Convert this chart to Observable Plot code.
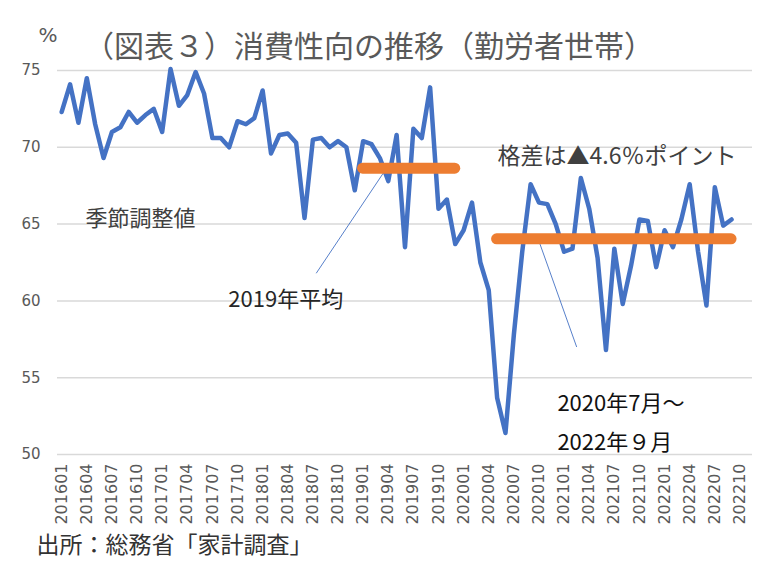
<!DOCTYPE html>
<html><head><meta charset="utf-8">
<script src="https://cdn.jsdelivr.net/npm/d3@7"></script>
<script src="https://cdn.jsdelivr.net/npm/@observablehq/plot@0.6"></script>
<style>body{margin:0;background:#fff}</style>
</head><body><div id="chart"></div>
<script>
// Categories (monthly, Excel-style category axis incl. trailing empty months)
const months = [
"201601","201602","201603","201604","201605","201606","201607","201608","201609","201610","201611","201612",
"201701","201702","201703","201704","201705","201706","201707","201708","201709","201710","201711","201712",
"201801","201802","201803","201804","201805","201806","201807","201808","201809","201810","201811","201812",
"201901","201902","201903","201904","201905","201906","201907","201908","201909","201910","201911","201912",
"202001","202002","202003","202004","202005","202006","202007","202008","202009","202010","202011","202012",
"202101","202102","202103","202104","202105","202106","202107","202108","202109","202110","202111","202112",
"202201","202202","202203","202204","202205","202206","202207","202208","202209","202210","202211"];
const tickLabels = ["201601","201604","201607","201610","201701","201704","201707","201710","201801","201804",
"201807","201810","201901","201904","201907","201910","202001","202004","202007","202010","202101","202104",
"202107","202110","202201","202204","202207","202210"];
// 平均消費性向（勤労者世帯・季節調整値, %） 201601..202209
const propensity = [
72.3,74.1,71.6,74.5,71.5,69.3,71.0,71.3,72.3,71.6,72.1,72.5,
71.0,75.1,72.7,73.4,74.9,73.5,70.6,70.6,70.0,71.7,71.5,71.9,
73.7,69.6,70.8,70.9,70.3,65.4,70.5,70.6,70.0,70.4,70.0,67.2,
70.4,70.2,69.3,67.8,70.8,63.5,71.2,70.6,73.9,66.0,66.6,63.7,
64.6,66.4,62.5,60.7,53.7,51.4,57.8,63.2,67.6,66.4,66.3,65.0,
63.2,63.4,68.0,66.0,62.8,56.8,63.4,59.8,62.3,65.3,65.2,62.2,
64.6,63.5,65.3,67.6,63.2,59.7,67.4,64.9,65.3];
const avgFrom = ["201901","202005"];
const avgTo = ["201912","202209"];
const avgValues = [68.64, 64.04];
const yTicks = [50,55,60,65,70,75];

const rows = propensity.map((v,i)=>({idx:i, month:months[i], value:v}));
const avgRows = avgValues.map((v,i)=>({x1:months.indexOf(avgFrom[i]), x2:months.indexOf(avgTo[i]), value:v}));
const tickIdx = tickLabels.map(l=>months.indexOf(l));

const blue = "#4472C4", orange = "#ED7D31";
const jp = "'Noto Sans CJK JP', sans-serif";

const chart = Plot.plot({
  width:781, height:576,
  marginTop:70, marginRight:29, marginBottom:122, marginLeft:57,
  style:{fontFamily:jp, background:"#fff", overflow:"visible"},
  x:{type:"linear", domain:[-0.5, 82.5]},
  y:{domain:[50,75]},
  marks:[
    Plot.ruleY(yTicks, {stroke:"#d9d9d9", strokeWidth:1.5}),
    Plot.axisY(yTicks, {tickSize:0, tickPadding:17, fontSize:15, fontFamily:"DejaVu Sans", color:"#595959", label:null}),
    Plot.axisX(tickIdx, {tickSize:0, tickPadding:9, tickRotate:-90, tickFormat:i=>months[i], fontSize:16, fontFamily:"DejaVu Sans", color:"#595959", label:null}),
    // leader lines
    Plot.link([{x1:30.4,y1:61.8,x2:38.8,y2:68.64},{x1:56.9,y1:64.04,x2:61.5,y2:57.0}],
      {x1:"x1",y1:"y1",x2:"x2",y2:"y2", stroke:blue, strokeWidth:0.9}),
    Plot.line(rows, {x:"idx", y:"value", stroke:blue, strokeWidth:4.5, strokeLinejoin:"round", strokeLinecap:"round"}),
    Plot.ruleY(avgRows, {y:"value", x1:"x1", x2:"x2", stroke:orange, strokeWidth:11, strokeLinecap:"round"}),
    // annotations
    Plot.text(["季節調整値"], {x:2.84, y:65.36, text:d=>d, textAnchor:"start", fontSize:22, fill:"#404040"}),
    Plot.text(["2019年平均"], {x:19.9, y:60.09, text:d=>d, textAnchor:"start", fontSize:22, fill:"#262626"}),
    Plot.text(["格差は▲4.6％ポイント"], {x:52.05, y:69.4, text:d=>d, textAnchor:"start", fontSize:23, fill:"#404040"}),
    Plot.text(["2020年7月～"], {x:59.2, y:53.26, text:d=>d, textAnchor:"start", fontSize:22, fill:"#111"}),
    Plot.text(["2022年９月"], {x:59.2, y:50.78, text:d=>d, textAnchor:"start", fontSize:22, fill:"#111"}),
    // title, unit, source
    Plot.text(["（図表３）消費性向の推移（勤労者世帯）"], {frameAnchor:"top", dx:-36, dy:-35, text:d=>d, fontSize:30, fill:"#595959"}),
    Plot.text(["%"], {frameAnchor:"top-left", dx:-19, dy:-43, text:d=>d, fontSize:20, fill:"#595959", fontFamily:"DejaVu Sans"}),
    Plot.text(["出所：総務省「家計調査」"], {frameAnchor:"bottom-left", dx:-21, dy:98, text:d=>d, textAnchor:"start", fontSize:23, fill:"#333"})
  ]
});
document.getElementById("chart").append(chart);
</script>
</body></html>
